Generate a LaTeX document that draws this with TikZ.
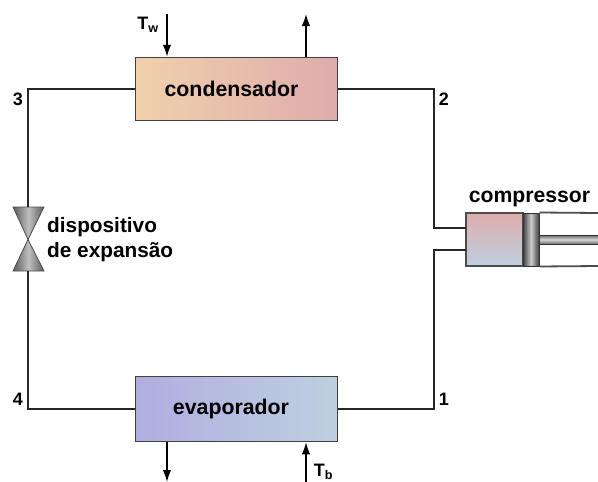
\documentclass[tikz,border=0pt]{standalone}
\usepackage{fontspec}
\setmainfont{Liberation Sans}
\usetikzlibrary{arrows.meta,calc,positioning}
\definecolor{quente}{RGB}{241,208,172}
\definecolor{rosa}{RGB}{222,172,172}
\definecolor{lilas}{RGB}{176,174,224}
\definecolor{azul}{RGB}{190,208,224}
\tikzset{
  wire/.style={line width=1.8pt,color=black!85,line join=miter},
  flow/.style={line width=1.7pt,-{Latex[length=12pt,width=8.5pt]}},
  trocador/.style={draw=black!75,line width=1.5pt,minimum width=202pt,minimum height=63pt,inner sep=0pt,font=\bfseries\fontsize{21.3}{21.3}\selectfont},
  rotulo/.style={font=\bfseries\fontsize{18}{18}\selectfont,inner sep=0pt},
  valvula/.style={draw=black!70,line width=.8pt,left color=black!65,right color=black!65,middle color=black!25}
}
\begin{document}
\begin{tikzpicture}[x=1pt,y=-1pt]
   \useasboundingbox (0,0) rectangle (598,482);
   % heat exchangers
   \node[trocador,left color=quente,right color=rosa] (condensador) at (236.5,89) {\hspace*{-10pt}condensador};
   \node[trocador,left color=lilas,right color=azul,minimum height=65pt] (evaporador) at (236.5,409) {\hspace*{-11pt}evaporador};
   % compressor
   \node[draw=black!70,line width=1.3pt,minimum width=57pt,minimum height=53pt,inner sep=0pt,top color=rosa,bottom color=azul] (camara) at (494.5,239.5) {};
   \node[draw=black!80,line width=1pt,minimum width=16pt,minimum height=53pt,inner sep=0pt,left color=black!75,right color=black!75,middle color=black!20] (pistao) at (531,239.5) {};
   \node[draw=black!80,line width=.8pt,minimum width=59pt,minimum height=9pt,inner sep=0pt,top color=black!60,bottom color=black!60,middle color=black!15,anchor=west] (haste) at (539,239.5) {};
   \node[font=\bfseries\fontsize{21.2}{21.2}\selectfont,inner sep=0pt] (compressor) at (529.5,199) {compressor};
   \coordinate (fimtopo) at (598,213);
   \coordinate (fimbase) at (598,266);
   \draw[wire,color=black!70] (pistao.north east) -- (fimtopo);
   \draw[wire,color=black!70] (pistao.south east) -- (fimbase);
   \coordinate (entrada) at (466,250);
   \coordinate (saida) at (466,228);
   % expansion valve
   \coordinate (valvetop) at (28,207);
   \coordinate (valvemid) at (28,239.5);
   \coordinate (valvebot) at (28,271);
   \draw[valvula] (13,207) -- (44,207) -- (valvemid) -- cycle;
   \draw[valvula] (13,271) -- (44,271) -- (valvemid) -- cycle;
   \node[anchor=west,align=left,font=\bfseries\fontsize{20.8}{25}\selectfont,inner sep=0pt] (dispositivo) at (47,240) {dispositivo\\de expansão};
   % refrigerant loop
   \coordinate (canto3) at (28,89);
   \coordinate (canto4) at (28,409);
   \coordinate (canto2) at (434,89);
   \coordinate (canto1) at (434,409);
   \draw[wire] (condensador.west) -- (canto3) -- (valvetop);
   \draw[wire] (valvebot) -- (canto4) -- (evaporador.west);
   \draw[wire] (condensador.east) -- (canto2) |- (saida);
   \draw[wire] (evaporador.east) -- (canto1) |- (entrada);
   \node[rotulo] (n3) at (18,99) {3};
   \node[rotulo] (n2) at (444,99) {2};
   \node[rotulo] (n4) at (18,399) {4};
   \node[rotulo] (n1) at (444,399) {1};
   % water and brine
   \coordinate (aguain) at (167,14);
   \coordinate (aguaout) at (306,14);
   \coordinate (brinein) at (306,482);
   \coordinate (brineout) at (167,482);
   \draw[flow] (aguain) -- (aguain |- condensador.north);
   \draw[flow] (aguaout |- condensador.north) -- (aguaout);
   \draw[flow] (brinein) -- (brinein |- evaporador.south);
   \draw[flow] (brineout |- evaporador.south) -- (brineout);
   \node[rotulo] (tw) at (148,25) {T\textsubscript{w}};
   \node[rotulo] (tb) at (323.5,472) {T\textsubscript{b}};
\end{tikzpicture}
\end{document}
